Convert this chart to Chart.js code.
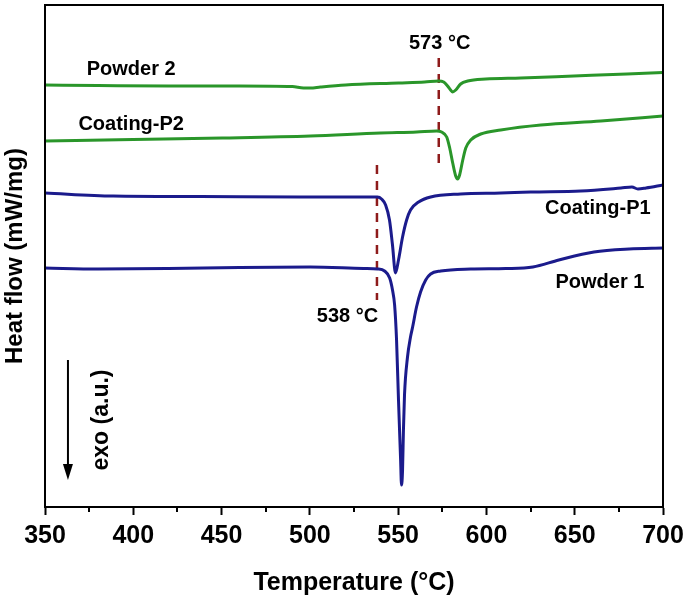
<!DOCTYPE html>
<html>
<head>
<meta charset="utf-8">
<script src="https://cdn.jsdelivr.net/npm/chart.js@4.4.0/dist/chart.umd.min.js"></script>
<style>
  body { margin: 0; background: #fff; }
</style>
</head>
<body>
<canvas id="dscChart" width="685" height="600"></canvas>
<script>
// DSC curves: temperature (°C) and heat flow (arbitrary, curves stacked with offsets)
const powder2Temp = [350, 380.1, 419.8, 460.1, 490.1, 496.4, 500.3, 506.0, 520.2, 550.2, 565.0, 572.9, 575.8, 578.0, 579.7, 580.9, 582.6, 585.4, 589.4, 599.6, 619.4, 649.5, 679.6, 700];
const powder2Flow = [420, 419.5, 419, 419, 418.5, 417, 417, 418, 420, 422, 423, 424, 423, 419, 415, 413, 415, 421, 424, 426, 427, 429, 431, 432.5];

const coatingP2Temp = [350, 399.9, 450.4, 500.3, 540.0, 560.5, 571.8, 574.6, 577.5, 579.2, 580.9, 582.6, 583.7, 584.8, 586.6, 588.3, 591.1, 596.8, 608.1, 630.8, 664.8, 700];
const coatingP2Flow = [364, 365.5, 367, 369, 372, 373, 374, 373, 368, 357, 342, 329, 326, 330, 345, 357, 365, 371, 375, 380, 384, 389];

const coatingP1Temp = [350, 388.6, 437.9, 494.7, 538.3, 540.6, 542.9, 545.1, 546.8, 548.5, 550.2, 552.5, 554.8, 557.0, 561.6, 568.4, 585.4, 608.1, 625.1, 653.5, 676.2, 682.4, 685.8, 690.4, 700];
const coatingP1Flow = [312, 309, 308.5, 308, 308, 306, 300, 285, 260, 232, 245, 268, 285, 295, 303, 308, 311, 312, 313, 314, 317, 318, 316, 317, 320];

const powder1Temp = [350, 380.1, 419.8, 460.1, 500.3, 530.4, 538.4, 542.3, 545.2, 546.8, 548.0, 549.1, 550.2, 551.4, 551.9, 552.5, 553.0, 553.6, 555.3, 557.0, 558.2, 560.4, 562.7, 565.6, 568.4, 574.1, 591.1, 610.9, 626.3, 641.0, 660.9, 680.8, 700];
const powder1Flow = [237, 236, 236.5, 237.5, 238, 236.5, 236, 234, 227, 215, 200, 165, 105, 45, 20, 35, 75, 110, 148, 168, 178, 198, 213, 225, 231, 234, 236, 236.5, 238, 245, 253, 256, 257];

// onset markers (dashed lines)
const onsetTemps = [573, 538];
const onset573Flow = [447, 338];
const onset538Flow = [340, 205];

const xTickValues = [350, 400, 450, 500, 550, 600, 650, 700];
const minorTickValues = [375, 425, 475, 525, 575, 625, 675];

const green = '#2a962a';
const navy = '#1b1b8c';
const darkRed = '#8e1b1b';
const fontFamily = '"Liberation Sans", Arial, sans-serif';

const toPoints = (temps, flows) => temps.map((t, i) => ({ x: t, y: flows[i] }));

function curve(label, temps, flows, color) {
    return {
        label: label,
        data: toPoints(temps, flows),
        borderColor: color,
        borderWidth: 3,
        pointRadius: 0,
        fill: false,
        cubicInterpolationMode: 'monotone'
    };
}

function onsetLine(label, temp, flows) {
    return {
        label: label,
        data: toPoints([temp, temp], flows),
        borderColor: darkRed,
        borderWidth: 2.5,
        borderDash: [9, 7],
        pointRadius: 0,
        fill: false
    };
}

// text annotations placed in data coordinates (temperature, flow)
const annotations = [
    { text: 'Powder 2', t: 398.8, v: 436, size: 20 },
    { text: 'Coating-P2', t: 398.8, v: 381, size: 20 },
    { text: 'Coating-P1', t: 663.1, v: 297, size: 20 },
    { text: 'Powder 1', t: 664.3, v: 223, size: 20 },
    { text: '573 °C', t: 573.5, v: 462, size: 20 },
    { text: '538 °C', t: 521.3, v: 189, size: 20 }
];

const extrasPlugin = {
    id: 'extras',
    afterDraw(chart) {
        const { ctx, chartArea, scales } = chart;
        const x = scales.x, y = scales.y;
        ctx.save();

        // frame
        ctx.strokeStyle = '#000';
        ctx.lineWidth = 2;
        ctx.strokeRect(chartArea.left, chartArea.top, chartArea.right - chartArea.left, chartArea.bottom - chartArea.top);

        // minor ticks
        minorTickValues.forEach(v => {
            const px = Math.round(x.getPixelForValue(v));
            ctx.beginPath();
            ctx.moveTo(px, chartArea.bottom);
            ctx.lineTo(px, chartArea.bottom + 5);
            ctx.stroke();
        });

        // labels
        ctx.fillStyle = '#000';
        ctx.textAlign = 'center';
        ctx.textBaseline = 'middle';
        annotations.forEach(a => {
            ctx.font = 'bold ' + a.size + 'px ' + fontFamily;
            ctx.fillText(a.text, x.getPixelForValue(a.t), y.getPixelForValue(a.v));
        });

        // exo arrow
        const ax = x.getPixelForValue(363);
        const aTop = y.getPixelForValue(145);
        const aTip = y.getPixelForValue(25);
        ctx.lineWidth = 2;
        ctx.beginPath();
        ctx.moveTo(ax, aTop);
        ctx.lineTo(ax, aTip - 12);
        ctx.stroke();
        ctx.beginPath();
        ctx.moveTo(ax - 5, aTip - 16);
        ctx.lineTo(ax + 5, aTip - 16);
        ctx.lineTo(ax, aTip);
        ctx.closePath();
        ctx.fill();

        // exo text
        ctx.translate(x.getPixelForValue(382.3), y.getPixelForValue(85));
        ctx.rotate(-Math.PI / 2);
        ctx.font = 'bold 23px ' + fontFamily;
        ctx.fillText('exo (a.u.)', 0, 0);
        ctx.restore();
    }
};

const ctx = document.getElementById('dscChart').getContext('2d');
new Chart(ctx, {
    type: 'line',
    data: {
        datasets: [
            curve('Powder 2', powder2Temp, powder2Flow, green),
            curve('Coating-P2', coatingP2Temp, coatingP2Flow, green),
            curve('Coating-P1', coatingP1Temp, coatingP1Flow, navy),
            curve('Powder 1', powder1Temp, powder1Flow, navy),
            onsetLine('573 °C', onsetTemps[0], onset573Flow),
            onsetLine('538 °C', onsetTemps[1], onset538Flow)
        ]
    },
    options: {
        responsive: false,
        animation: false,
        layout: { padding: { top: 5, right: 22, left: 0, bottom: 0 } },
        plugins: {
            legend: { display: false },
            tooltip: { enabled: false }
        },
        scales: {
            x: {
                type: 'linear',
                min: 350,
                max: 700,
                afterBuildTicks: scale => {
                    scale.ticks = xTickValues.map(v => ({ value: v }));
                },
                ticks: {
                    autoSkip: false,
                    maxRotation: 0,
                    padding: 6,
                    color: '#000',
                    font: { family: fontFamily, size: 25, weight: 'bold' }
                },
                grid: { drawOnChartArea: false, tickLength: 8, tickWidth: 2, tickColor: '#000' },
                border: { color: '#000', width: 2 },
                title: {
                    display: true,
                    text: 'Temperature (°C)',
                    color: '#000',
                    font: { family: fontFamily, size: 25, weight: 'bold' },
                    padding: { top: 0, bottom: 2 }
                },
                afterFit: scale => {
                    scale.height = 93;
                    // let the last tick label overhang into the right margin
                    scale.paddingRight = 0;
                    scale.paddingLeft = 0;
                }
            },
            y: {
                min: -2,
                max: 500,
                ticks: { display: false },
                grid: { display: false, drawTicks: false },
                border: { color: '#000', width: 2 },
                title: {
                    display: true,
                    text: 'Heat flow (mW/mg)',
                    color: '#000',
                    font: { family: fontFamily, size: 24, weight: 'bold' },
                    padding: { top: 1, bottom: 0 }
                },
                afterFit: scale => { scale.width = 45; }
            }
        }
    },
    plugins: [extrasPlugin]
});
</script>
</body>
</html>
